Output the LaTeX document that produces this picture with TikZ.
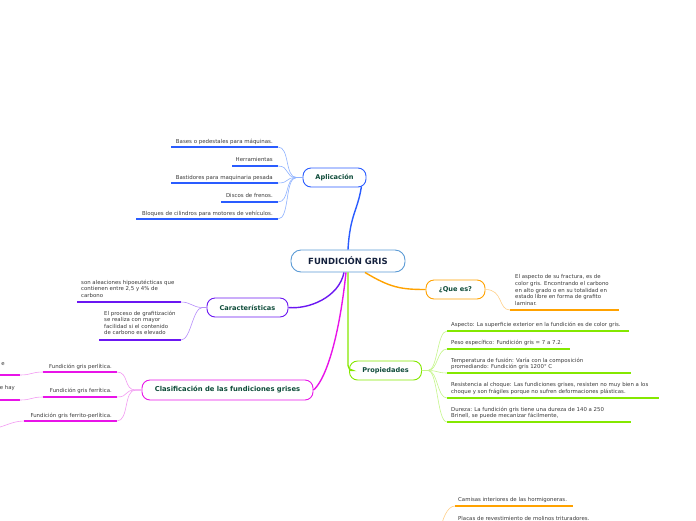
\documentclass[tikz,border=0pt]{standalone}
\usepackage{fontspec}
\setmainfont{DejaVu Sans}
\definecolor{cenB}{HTML}{5B9BD5}
\definecolor{cenT}{HTML}{14213D}
\definecolor{topT}{HTML}{0F4C3A}
\definecolor{leafT}{HTML}{3A3A3A}
\definecolor{blueB}{HTML}{2A5CFF}
\definecolor{blueL}{HTML}{8FB2FF}
\definecolor{orangeB}{HTML}{FFA200}
\definecolor{orangeL}{HTML}{FFD08A}
\definecolor{greenB}{HTML}{84E800}
\definecolor{greenL}{HTML}{C4F58A}
\definecolor{purpleB}{HTML}{6B17F2}
\definecolor{purpleL}{HTML}{B58CFA}
\definecolor{magB}{HTML}{E814E8}
\definecolor{magL}{HTML}{F29AF2}
\tikzset{
  topic/.style={draw, rounded corners=8pt, line width=0.9pt, fill=white,
    font=\fontsize{6.6}{7}\selectfont\bfseries, text=topT, inner sep=0pt,
    minimum height=19pt},
  leafA/.style={font=\fontsize{5.45}{6.6}\selectfont, text=leafT, inner sep=0pt, align=left},
  leafB/.style={font=\fontsize{5.4}{6.6}\selectfont, text=leafT, inner sep=0pt, align=left},
  uline/.style={line width=1.8pt},
  mainln/.style={line width=1.4pt},
  twig/.style={line width=0.6pt},
}
\begin{document}
\begin{tikzpicture}[x=1pt,y=-1pt]
\useasboundingbox (0,0) rectangle (696,520);

% ---------- topic nodes ----------
\node[topic, draw=cenB, rounded corners=10pt, minimum width=114pt, minimum height=22pt,
  font=\fontsize{8.5}{9}\selectfont\bfseries, text=cenT] (c) at (348,261) {FUNDICIÓN GRIS};
\node[topic, draw=blueB, minimum width=63pt] (apl) at (334.5,177.5) {Aplicación};
\node[topic, draw=orangeB, minimum width=59pt] (que) at (455.5,289.5) {¿Que es?};
\node[topic, draw=greenB, minimum width=72pt] (prop) at (385.5,370.5) {Propiedades};
\node[topic, draw=purpleB, minimum width=81pt] (car) at (247.5,307.5) {Características};
\node[topic, draw=magB, minimum width=171pt, minimum height=20pt, font=\fontsize{6.8}{7}\selectfont\bfseries] (cla) at (227.5,390) {Clasificación de las fundiciones grises};

% ---------- main connectors ----------
\draw[mainln, blueB] (c.north) .. controls +(2,-35) and +(-4,25) .. ([xshift=-5pt,yshift=1pt]apl.south east);
\draw[mainln, orangeB] ([xshift=17pt]c.south) .. controls +(25,15) and +(-25,0) .. (que.west);
\draw[mainln, greenB, rounded corners=5pt] (c.south) |- (prop.west);
\draw[mainln, purpleB] ([xshift=-4pt]c.south) .. controls +(-5,25) and +(20,2) .. (car.east);
\draw[mainln, magB] ([xshift=-2pt]c.south) .. controls +(-8,75) and +(10,-8) .. (cla.east);

% ---------- Aplicación ----------
\coordinate (aplf) at ([xshift=-6pt]apl.west);
\foreach \n/\y/\xl in {1/147/171, 2/166/232, 3/183/171, 4/202/221, 5/219/136}{
  \coordinate (a\n r) at (278,\y);
  \coordinate (a\n l) at (\xl,\y);
  \draw[uline, blueB] (a\n l) -- (a\n r);
  \draw[twig, blueL] (apl.west) -- (aplf) .. controls +(-12,0) and +(12,0) .. (a\n r);
}
\node[leafA, anchor=base east] (a1) at (273,143) {Bases o pedestales para máquinas.};
\node[leafA, anchor=base east] (a2) at (273,161) {Herramientas};
\node[leafA, anchor=base east] (a3) at (273,179) {Bastidores para maquinaria pesada};
\node[leafA, anchor=base east] (a4) at (273,197) {Discos de frenos.};
\node[leafA, anchor=base east] (a5) at (273,215) {Bloques de cilindros para motores de vehículos.};

% ---------- ¿Que es? ----------
\coordinate (q1l) at (510,310);
\coordinate (q1r) at (619,310);
\draw[uline, orangeB] (q1l) -- (q1r);
\draw[twig, orangeL] (que.east) .. controls +(18,0) and +(-12,0) .. (q1l);
\node[leafB, anchor=north west] (q1) at (515,274.5) {El aspecto de su fractura, es de\\color gris. Encontrando el carbono\\en alto grado o en su totalidad en\\estado libre en forma de grafito\\laminar.};

% ---------- Propiedades ----------
\coordinate (propf) at ([xshift=6pt]prop.east);
\foreach \n/\y/\xr in {1/331/629, 2/349/570, 3/373/631, 4/398/659, 5/422/631}{
  \coordinate (p\n l) at (447,\y);
  \coordinate (p\n r) at (\xr,\y);
  \draw[uline, greenB] (p\n l) -- (p\n r);
  \draw[twig, greenL] (prop.east) -- (propf) .. controls +(10,0) and +(-10,0) .. (p\n l);
}
\node[leafB, anchor=base west] (p1) at (451,326) {Aspecto: La superficie exterior en la fundición es de color gris.};
\node[leafB, anchor=base west] (p2) at (451,344.5) {Peso específico: Fundición gris = 7 a 7.2.};
\node[leafB, anchor=north west] (p3) at (451,357.5) {Temperatura de fusión: Varía con la composición\\promediando: Fundición gris 1200° C};
\node[leafB, anchor=north west] (p4) at (451,382.5) {Resistencia al choque: Las fundiciones grises, resisten no muy bien a los\\choque y son frágiles porque no sufren deformaciones plásticas.};
\node[leafB, anchor=north west] (p5) at (451,406.5) {Dureza: La fundición gris tiene una dureza de 140 a 250\\Brinell, se puede mecanizar fácilmente,};

% ---------- Características ----------
\coordinate (k1l) at (77,302);
\coordinate (k1r) at (181,302);
\coordinate (k2l) at (99,340);
\coordinate (k2r) at (181,340);
\draw[uline, purpleB] (k1l) -- (k1r);
\draw[uline, purpleB] (k2l) -- (k2r);
\coordinate (carf) at ([xshift=-4pt]car.west);
\draw[twig, purpleL] (car.west) -- (carf) .. controls +(-10,0) and +(10,0) .. (k1r);
\draw[twig, purpleL] (car.west) -- (carf) .. controls +(-10,0) and +(10,0) .. (k2r);
\node[leafB, anchor=north west] (k1) at (81,279.5) {son aleaciones hipoeutécticas que\\contienen entre 2,5 y 4\% de\\carbono};
\node[leafB, anchor=north west] (k2) at (104,310.5) {El proceso de grafitización\\se realiza con mayor\\facilidad si el contenido\\de carbono es elevado};

% ---------- Clasificación ----------
\coordinate (claf) at ([xshift=-6pt]cla.west);
\foreach \n/\y/\xl in {1/372/43, 2/397/43, 3/421/24}{
  \coordinate (s\n l) at (\xl,\y);
  \coordinate (s\n r) at (117,\y);
  \draw[uline, magB] (s\n l) -- (s\n r);
  \draw[twig, magL] (cla.west) -- (claf) .. controls +(-12,0) and +(12,0) .. (s\n r);
}
\node[leafB, anchor=base east] (s1) at (112,368) {Fundición gris perlítica.};
\node[leafB, anchor=base east] (s2) at (112,392.5) {Fundición gris ferrítica.};
\node[leafB, anchor=base east] (s3) at (112,417) {Fundición gris ferrito-perlítica.};
% grandchildren (cut by the edge)
\coordinate (g1l) at (-10,375);
\coordinate (g1r) at (20,375);
\coordinate (g2l) at (-10,400);
\coordinate (g2r) at (20,400);
\coordinate (g3) at (-12,429);
\draw[uline, magB] (g1l) -- (g1r);
\draw[uline, magB] (g2l) -- (g2r);
\draw[twig, magL] (s1l) .. controls +(-12,0) and +(12,0) .. (g1r);
\draw[twig, magL] (s2l) .. controls +(-12,0) and +(12,0) .. (g2r);
\draw[twig, magL] (s3l) .. controls +(-14,0) and +(14,0) .. (g3);
\node[leafB, anchor=base east] (t1) at (5,365.5) {e};
\node[leafB, anchor=base east] (t2) at (15,389.5) {e hay};

% ---------- bottom (cut) branch ----------
\coordinate (b1l) at (455,506);
\coordinate (b1r) at (573,506);
\coordinate (bfree) at (440,532);
\draw[uline, orangeB] (b1l) -- (b1r);
\draw[twig, orangeL] (b1l) .. controls +(-8,0) and +(2,-12) .. (bfree);
\node[leafB, anchor=base west] (b1) at (458,501) {Camisas interiores de las hormigoneras.};
\node[leafB, anchor=base west] (b2) at (458,520) {Placas de revestimiento de molinos trituradores.};
\end{tikzpicture}
\end{document}
